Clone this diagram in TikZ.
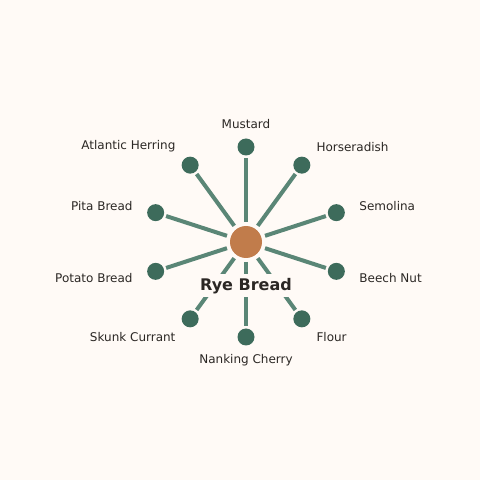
\documentclass[tikz,border=0pt]{standalone}
\usepackage{fontspec}
\setmainfont{DejaVu Sans}
\usetikzlibrary{calc}
\definecolor{bg}{HTML}{FFFAF6}
\definecolor{spoke}{HTML}{5A8676}
\definecolor{leaf}{HTML}{3D6B5B}
\definecolor{hub}{HTML}{C17C4B}
\definecolor{txt}{HTML}{2B2724}
\begin{document}
\begin{tikzpicture}[x=1pt,y=1pt,
  leafnode/.style={circle,fill=leaf,minimum size=17pt,inner sep=0pt},
  hubnode/.style={circle,fill=hub,minimum size=32pt,inner sep=0pt},
  lbl/.style={font=\fontsize{12}{14}\selectfont,text=txt,inner sep=1pt},
  spokeline/.style={draw=spoke,line width=4pt}]
\fill[bg] (0,0) rectangle (480,480);
\useasboundingbox (0,0) rectangle (480,480);
\coordinate (c) at (246,238);
\node[hubnode] (hub) at (c) {};
\foreach \i/\ang/\txt/\anc in {
  1/90/Mustard/center,
  2/54/Horseradish/west,
  3/18/Semolina/west,
  4/-18/Beech Nut/west,
  5/-54/Flour/west,
  6/-90/Nanking Cherry/center,
  7/-126/Skunk Currant/east,
  8/-162/Potato Bread/east,
  9/162/Pita Bread/east,
  10/126/Atlantic Herring/east}{
  \node[leafnode] (n\i) at ($(c)+(\ang:95)$) {};
  \coordinate (s\i) at ($(c)+(\ang:20)$);
  \coordinate (e\i) at ($(c)+(\ang:84)$);
  \draw[spokeline] (s\i) -- (e\i);
  \node[lbl,anchor=\anc] (l\i) at ($(c)+(\ang:118)$) {\txt};
}
\node[fill=bg,inner xsep=2pt,minimum height=23pt,font=\bfseries\fontsize{16}{18}\selectfont,text=txt] (title) at (246,194) {Rye Bread};
\end{tikzpicture}
\end{document}
